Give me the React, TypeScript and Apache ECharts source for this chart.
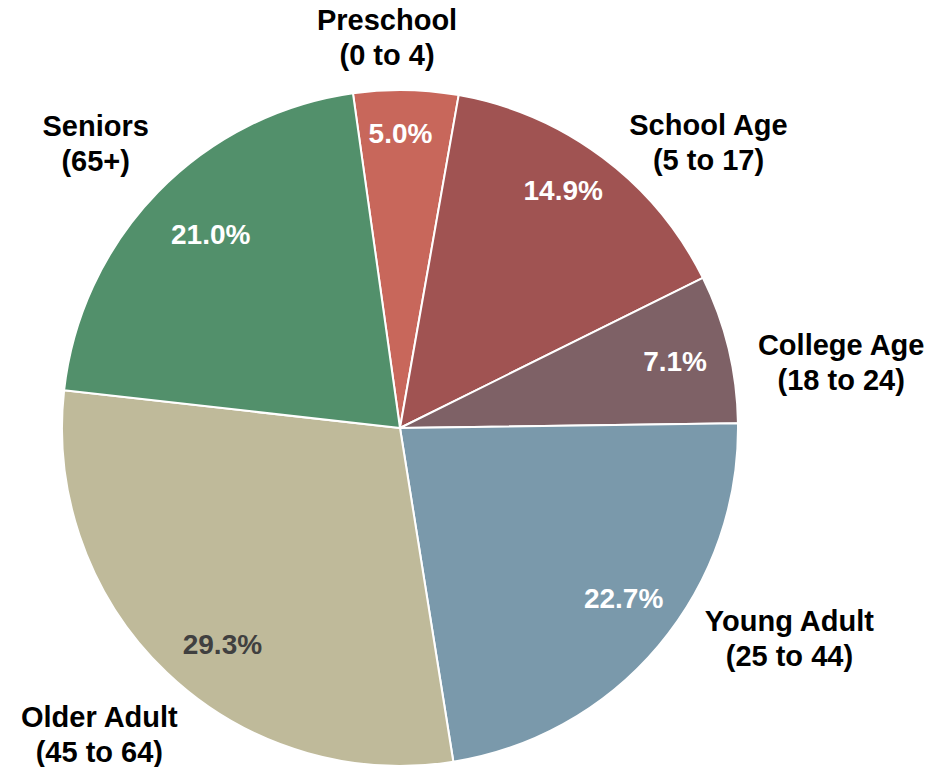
import React, { useEffect, useRef } from "react";
import * as echarts from "echarts";

// ---- data ----
const categories = ["Preschool", "School Age", "College Age", "Young Adult", "Older Adult", "Seniors"];
const ageRanges = ["(0 to 4)", "(5 to 17)", "(18 to 24)", "(25 to 44)", "(45 to 64)", "(65+)"];
const shares = [5.0, 14.9, 7.1, 22.7, 29.3, 21.0];

// ---- styles / layout ----
const sliceColors = ["#C8675B", "#A05352", "#7E6166", "#7A99AB", "#BFBA9A", "#52906B"];
const valueLabelColors = ["#FFFFFF", "#FFFFFF", "#FFFFFF", "#FFFFFF", "#404040", "#FFFFFF"];
const CX = 400;
const CY = 428;
const R = 338;
const START_OFFSET = 8; // degrees left of 12 o'clock where the first slice begins
// category label placement (angle nudge from slice middle, gap from rim)
const labelAngleNudge = [-2.9, 10.4, 5.1, -11.7, 0.8, -1.1];
const labelGap = [15, 0, 20, 13, 11, 16];
// percentage label placement (angle nudge, distance from centre)
const valueAngleNudge = [-0.9, -2.3, 0, -2.8, -4.3, 1.5];
const valueRadius = [295, 288, 283, 281, 280, 271];
const FONT = "'Liberation Sans', Arial, Helvetica, sans-serif";

export default function App() {
  const ref = useRef<HTMLDivElement>(null);

  useEffect(() => {
    if (!ref.current) return;
    const chart = echarts.init(ref.current, undefined, { renderer: "svg" });

    const total = shares.reduce((a, b) => a + b, 0);
    const midAngles: number[] = [];
    let acc = 0;
    shares.forEach((v) => {
      const span = (v / total) * 360;
      midAngles.push(acc + span / 2 - START_OFFSET);
      acc += span;
    });

    const data = categories.map((name, i) => ({
      name,
      value: shares[i],
      itemStyle: { color: sliceColors[i] },
    }));

    chart.setOption({
      animation: false,
      backgroundColor: "#FFFFFF",
      series: [
        {
          type: "pie",
          center: [CX, CY],
          radius: [0, R],
          startAngle: 90 + START_OFFSET,
          clockwise: true,
          avoidLabelOverlap: false,
          silent: true,
          data,
          itemStyle: { borderColor: "#FFFFFF", borderWidth: 2 },
          label: {
            show: true,
            position: "outside",
            formatter: (p: any) => `${p.name}\n${ageRanges[p.dataIndex]}`,
            fontFamily: FONT,
            fontWeight: "bold",
            fontSize: 29,
            lineHeight: 35,
            color: "#000000",
          },
          labelLine: { show: false },
          labelLayout: (p: any) => {
            const i = p.dataIndex;
            const th = ((midAngles[i] + labelAngleNudge[i]) * Math.PI) / 180;
            const ux = Math.sin(th);
            const uy = -Math.cos(th);
            const w = p.labelRect.width;
            const h = p.labelRect.height;
            const d = R + labelGap[i] + (w / 2) * Math.abs(ux) + (h / 2) * Math.abs(uy);
            return { x: CX + d * ux, y: CY + d * uy, align: "center", verticalAlign: "middle" };
          },
        },
        {
          type: "pie",
          center: [CX, CY],
          radius: [0, R],
          startAngle: 90 + START_OFFSET,
          clockwise: true,
          avoidLabelOverlap: false,
          silent: true,
          data: categories.map((name, i) => ({
            name,
            value: shares[i],
            itemStyle: { color: "rgba(0,0,0,0)", borderWidth: 0 },
            label: { color: valueLabelColors[i] },
          })),
          label: {
            show: true,
            position: "inside",
            formatter: (p: any) => `${Number(p.value).toFixed(1)}%`,
            fontFamily: FONT,
            fontWeight: "bold",
            fontSize: 28,
          },
          labelLine: { show: false },
          labelLayout: (p: any) => {
            const i = p.dataIndex;
            const th = ((midAngles[i] + valueAngleNudge[i]) * Math.PI) / 180;
            const d = valueRadius[i];
            return {
              x: CX + d * Math.sin(th),
              y: CY - d * Math.cos(th),
              align: "center",
              verticalAlign: "middle",
            };
          },
        },
      ],
    });

    return () => chart.dispose();
  }, []);

  return (
    <div
      ref={ref}
      style={{ position: "fixed", left: 0, top: 0, width: 943, height: 767, background: "#fff" }}
    />
  );
}
